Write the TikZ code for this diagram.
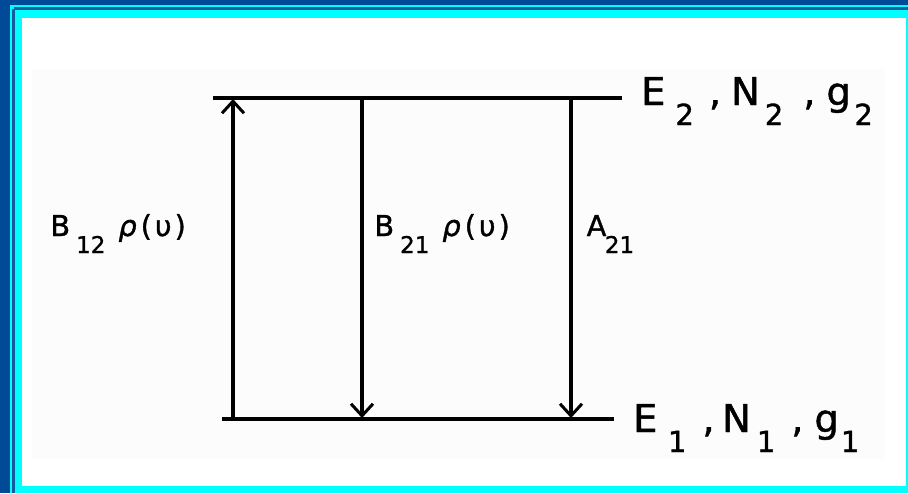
\documentclass[tikz,border=0pt]{standalone}
\usepackage{fontspec}
\setmainfont{DejaVu Sans}[FakeBold=1.2]
\usetikzlibrary{arrows.meta}
\definecolor{frameblue}{RGB}{0,74,152}
\definecolor{framecyan}{RGB}{0,255,255}
\definecolor{frameline}{RGB}{20,92,160}
\definecolor{scangray}{RGB}{252,252,252}
\newcommand\bigsub[1]{\raisebox{-20pt}{\fontsize{29}{29}\selectfont #1}}
\newcommand\smallsub[1]{\raisebox{-17pt}{\fontsize{23}{23}\selectfont #1}}
\begin{document}
\begin{tikzpicture}[x=1pt,y=-1pt,
  level/.style={line width=3.2pt},
  trans/.style={line width=3.2pt,-{Straight Barb[length=12pt,width=22pt,line width=3pt]}},
  biglabel/.style={anchor=base west,inner sep=0pt,font=\fontsize{38.4}{40}\selectfont},
  smalllabel/.style={anchor=base west,inner sep=0pt,font=\fontsize{28.8}{30}\selectfont}]
\useasboundingbox (0,0) rectangle (908,493);
% frame
\fill[frameblue] (0,0) rectangle (908,493);
\fill[framecyan] (10,5) rectangle (908,493);
\draw[frameline,line width=3pt] (13.5,8.5) -- (908,8.5);
\draw[frameline,line width=3pt] (13.5,8.5) -- (13.5,493);
\fill[white] (22,18) rectangle (906,486);
\fill[scangray] (32,69) rectangle (885,459);
% levels
\coordinate (t1) at (213,98);
\coordinate (t2) at (622,98);
\coordinate (b1) at (222,419);
\coordinate (b2) at (614,419);
\draw[level] (t1) -- (t2);
\draw[level] (b1) -- (b2);
% transitions
\coordinate (ua) at (233,419);
\coordinate (ub) at (233,99);
\coordinate (ma) at (362,98);
\coordinate (mb) at (362,418);
\coordinate (ra) at (571,98);
\coordinate (rb) at (571,418);
\draw[trans] (ua) -- (ub);
\draw[trans] (ma) -- (mb);
\draw[trans] (ra) -- (rb);
% labels
\node[smalllabel] (lab12) at (50.2,236) {B\hspace{6pt}\smallsub{12}\hspace{13pt}{\itshape ρ}\hspace{4pt}(\hspace{3pt}υ\hspace{3pt})};
\node[smalllabel] (lab21) at (374.2,236) {B\hspace{6pt}\smallsub{21}\hspace{13pt}{\itshape ρ}\hspace{4pt}(\hspace{3pt}υ\hspace{3pt})};
\node[smalllabel] (laba) at (586.5,236) {A\hspace{-1.5pt}\smallsub{21}};
\node[biglabel] (lev2) at (641,105) {E\hspace{10pt}\bigsub{2}\hspace{15pt},\hspace{10pt}N\hspace{5pt}\bigsub{2}\hspace{20pt},\hspace{11pt}g\hspace{3.5pt}\bigsub{2}};
\node[biglabel] (lev1) at (633,432) {E\hspace{10.5pt}\bigsub{1}\hspace{16pt},\hspace{7.5pt}N\hspace{6pt}\bigsub{1}\hspace{16pt},\hspace{11pt}g\hspace{2pt}\bigsub{1}};
\end{tikzpicture}
\end{document}
